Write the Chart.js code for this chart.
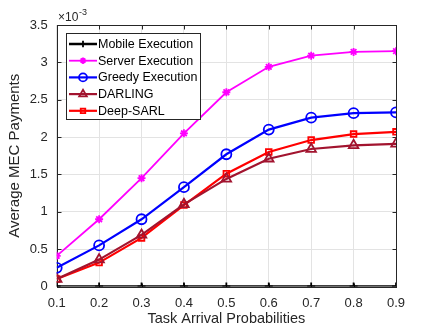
<!DOCTYPE html>
<html>
<head>
<meta charset="utf-8">
<script src="https://cdn.jsdelivr.net/npm/chart.js@4/dist/chart.umd.min.js"></script>
<style>
  html, body { margin: 0; padding: 0; background: #fff; }
  #wrap { width: 437px; height: 328px; }
</style>
</head>
<body>
<div id="wrap"><canvas id="chart" width="437" height="328"></canvas></div>
<script>
// values are in units of 1e-3
const probs = [0.1, 0.2, 0.3, 0.4, 0.5, 0.6, 0.7, 0.8, 0.9];
const mobile = [0, 0, 0, 0, 0, 0, 0, 0, 0];
const server = [0.41, 0.9, 1.45, 2.05, 2.6, 2.94, 3.09, 3.14, 3.15];
const greedy = [0.25, 0.55, 0.9, 1.33, 1.77, 2.1, 2.26, 2.32, 2.33];
const darling = [0.1, 0.36, 0.69, 1.1, 1.44, 1.71, 1.84, 1.89, 1.91];
const deepSarl = [0.1, 0.32, 0.65, 1.09, 1.51, 1.8, 1.96, 2.04, 2.07];
const yTicks = [0, 0.5, 1, 1.5, 2, 2.5, 3, 3.5];

const FONT = "'Liberation Sans', Arial, sans-serif";

function series(label, values, color, style, radius, width) {
  return {
    label: label,
    data: probs.map((p, i) => ({ x: p, y: values[i] })),
    borderColor: color,
    backgroundColor: "rgba(0,0,0,0)",
    pointBorderColor: color,
    pointBackgroundColor: "rgba(0,0,0,0)",
    pointStyle: style,
    pointRadius: radius,
    pointBorderWidth: 1.8,
    borderWidth: width,
    tension: 0,
  };
}

// legend box drawn in MATLAB style (line + marker)
const legendBox = {
  id: "legendBox",
  afterDatasetsDraw(chart) {
    const ctx = chart.ctx;
    const x0 = 66, y0 = 33, w = 134, h = 86;
    ctx.save();
    ctx.fillStyle = "#fff";
    ctx.fillRect(x0, y0, w, h);
    ctx.strokeStyle = "#262626";
    ctx.lineWidth = 1;
    ctx.strokeRect(x0 + 0.5, y0 + 0.5, w, h);
    chart.data.datasets.forEach((ds, i) => {
      const y = 44 + i * 16.7;
      ctx.strokeStyle = ds.borderColor;
      ctx.lineWidth = ds.borderWidth;
      ctx.beginPath();
      ctx.moveTo(69, y);
      ctx.lineTo(97, y);
      ctx.stroke();
      ctx.lineWidth = 1.8;
      ctx.fillStyle = "rgba(0,0,0,0)";
      Chart.helpers.drawPoint(ctx, {
        pointStyle: ds.pointStyle,
        radius: ds.pointRadius * 0.8,
        rotation: 0,
        borderWidth: 1.8,
      }, 83, y);
      ctx.fillStyle = "#000";
      ctx.font = "12.5px " + FONT;
      ctx.textBaseline = "middle";
      ctx.fillText(ds.label, 98, y + 0.5);
    });
    ctx.restore();
  },
};

// box with inward ticks, exponent label
const frame = {
  id: "frame",
  beforeDatasetsDraw(chart) {
    const a = chart.chartArea, ctx = chart.ctx;
    const xs = chart.scales.x, ys = chart.scales.y;
    const L = Math.round(a.left) + 0.5, R = Math.round(a.right) + 0.5;
    const T = Math.round(a.top) + 0.5, B = Math.round(a.bottom) + 0.5;
    ctx.save();
    ctx.strokeStyle = "#262626";
    ctx.lineWidth = 1;
    ctx.strokeRect(L, T, R - L, B - T);
    ctx.beginPath();
    probs.forEach(v => {
      const px = Math.round(xs.getPixelForValue(v)) + 0.5;
      ctx.moveTo(px, T); ctx.lineTo(px, T + 4);
      ctx.moveTo(px, B); ctx.lineTo(px, B - 4);
    });
    yTicks.forEach(v => {
      const py = Math.round(ys.getPixelForValue(v)) + 0.5;
      ctx.moveTo(L, py); ctx.lineTo(L + 4, py);
      ctx.moveTo(R, py); ctx.lineTo(R - 4, py);
    });
    ctx.stroke();
    ctx.restore();
  },
  afterDraw(chart) {
    const ctx = chart.ctx;
    ctx.save();
    ctx.fillStyle = "#262626";
    ctx.textBaseline = "alphabetic";
    ctx.font = "12px " + FONT;
    ctx.fillText("\u00d710", 58, 21);
    ctx.font = "9px " + FONT;
    ctx.fillText("-3", 79, 15);
    ctx.restore();
  },
};

new Chart(document.getElementById("chart"), {
  type: "line",
  data: {
    datasets: [
      series("Mobile Execution", mobile, "#000000", "cross", 4, 2.5),
      series("Server Execution", server, "#ff00ff", "star", 4, 1.8),
      series("Greedy Execution", greedy, "#0000ff", "circle", 5, 2.2),
      series("DARLING", darling, "#a2142f", "triangle", 5.5, 2.2),
      series("Deep-SARL", deepSarl, "#ff0000", "rect", 4, 2.2),
    ],
  },
  options: {
    responsive: false,
    animation: false,
    layout: { padding: { top: 25, right: 41, left: 0, bottom: 0 } },
    plugins: {
      legend: { display: false },
      tooltip: { enabled: false },
    },
    scales: {
      x: {
        type: "linear",
        min: 0.1,
        max: 0.9,
        afterBuildTicks(axis) {
          axis.ticks = probs.map(v => ({ value: v }));
        },
        afterFit(axis) { axis.height = 41.5; },
        grid: { color: "#e3e3e3", drawTicks: false },
        border: { display: false },
        ticks: {
          color: "#262626",
          font: { family: FONT, size: 13 },
          padding: 9,
          maxRotation: 0,
          callback: v => v.toFixed(1),
        },
        title: {
          display: true,
          text: "Task Arrival Probabilities",
          color: "#262626",
          font: { family: FONT, size: 14.5 },
          padding: { top: 0, bottom: 0 },
        },
      },
      y: {
        min: 0,
        max: 3.5,
        afterBuildTicks(axis) {
          axis.ticks = yTicks.map(v => ({ value: v }));
        },
        afterFit(axis) { axis.width = 56.7; },
        grid: { color: "#e3e3e3", drawTicks: false },
        border: { display: false },
        ticks: {
          color: "#262626",
          font: { family: FONT, size: 13 },
          padding: 9,
          callback: v => String(v),
        },
        title: {
          display: true,
          text: "Average MEC Payments",
          color: "#262626",
          font: { family: FONT, size: 15 },
          padding: { top: 6, bottom: 0 },
        },
      },
    },
  },
  plugins: [frame, legendBox],
});
</script>
</body>
</html>
